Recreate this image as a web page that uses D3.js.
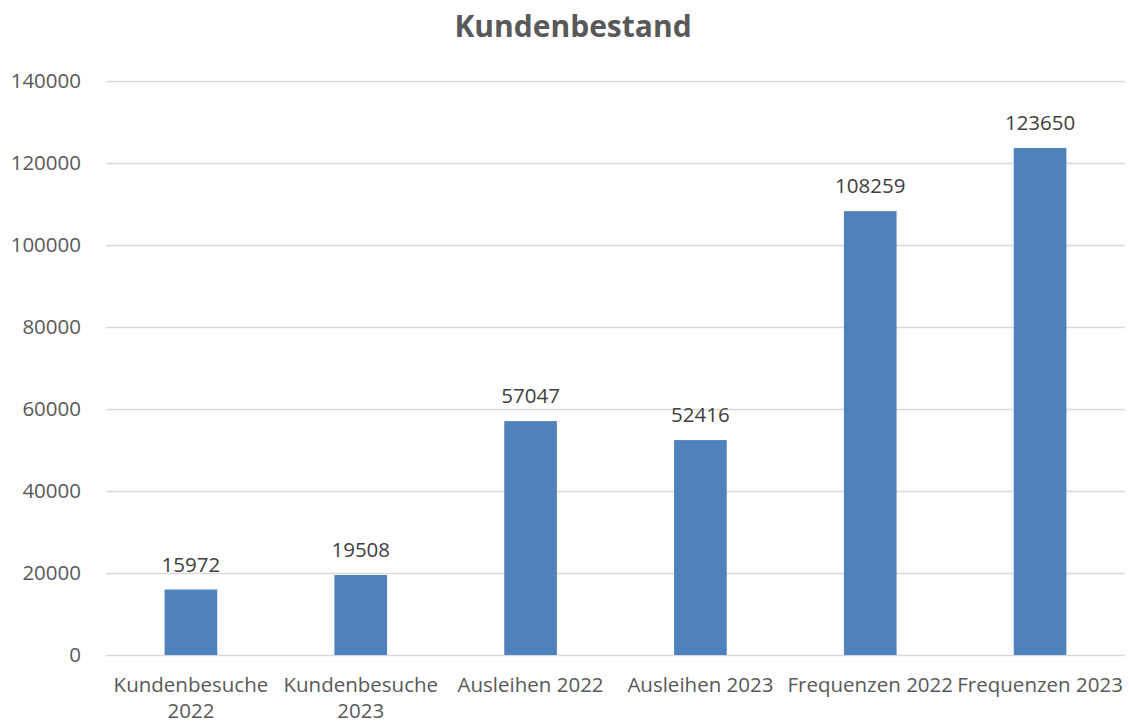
<!DOCTYPE html>
<html><head><meta charset="utf-8">
<script src="https://cdn.jsdelivr.net/npm/d3@7"></script>
<style>body{margin:0;background:#fff}svg{display:block}</style>
</head><body><svg id="c" width="1129" height="724"></svg>
<script>
const categories = ["Kundenbesuche 2022","Kundenbesuche 2023","Ausleihen 2022","Ausleihen 2023","Frequenzen 2022","Frequenzen 2023"];
const values = [15972,19508,57047,52416,108259,123650];
const yTicks = [0,20000,40000,60000,80000,100000,120000,140000];
const title = "Kundenbestand";

const font = "'Open Sans', 'Noto Sans', sans-serif";
const fs = 20.5;
const svg = d3.select("#c");
const W = 1129, H = 724;
const m = {left:106, right:4, top:81, bottom:69};
const x = d3.scaleBand().domain(categories).range([m.left, W - m.right]).paddingInner(0.69).paddingOuter(0.345);
const y = d3.scaleLinear().domain([0,140000]).range([H - m.bottom, m.top]);

svg.append("text").attr("x", 573).attr("y", 37).attr("text-anchor","middle")
  .attr("font-family", font).attr("font-weight","bold").attr("font-size", 30).attr("fill","#595959").text(title);

// gridlines
svg.append("g").selectAll("line").data(yTicks).join("line")
  .attr("x1", m.left).attr("x2", W - m.right)
  .attr("y1", d => Math.round(y(d)) + 0.5).attr("y2", d => Math.round(y(d)) + 0.5)
  .attr("stroke","#d9d9d9").attr("stroke-width",1.5);

// y axis labels
const yAxis = d3.axisLeft(y).tickValues(yTicks).tickSize(0).tickPadding(0).tickFormat(d3.format("d"));
const ga = svg.append("g").attr("transform", `translate(81,0)`).call(yAxis);
ga.select(".domain").remove();
ga.selectAll("text").attr("font-family", font).attr("font-size", fs).attr("fill","#595959");

// bars
svg.append("g").selectAll("rect").data(values).join("rect")
  .attr("x", (d,i) => x(categories[i])).attr("width", x.bandwidth())
  .attr("y", d => y(d)).attr("height", d => y(0) - y(d))
  .attr("fill","#4f81bd");

// data labels
svg.append("g").selectAll("text").data(values).join("text")
  .attr("x", (d,i) => x(categories[i]) + x.bandwidth()/2)
  .attr("y", d => y(d) - 18).attr("text-anchor","middle")
  .attr("font-family", font).attr("font-size", fs).attr("fill","#404040").text(d => d);

// category labels
const step = x.step();
const cg = svg.append("g");
categories.forEach((c,i) => {
  const cx = x(c) + x.bandwidth()/2;
  const t = cg.append("text").attr("x", cx).attr("y", 692).attr("text-anchor","middle")
    .attr("font-family", font).attr("font-size", fs).attr("fill","#595959").text(c);
  if (t.node().getComputedTextLength() > step - 2) {
    const parts = c.split(" ");
    t.text(null);
    parts.forEach((p,j) => t.append("tspan").attr("x", cx).attr("dy", j === 0 ? 0 : 26).text(p));
  }
});
</script></body></html>
